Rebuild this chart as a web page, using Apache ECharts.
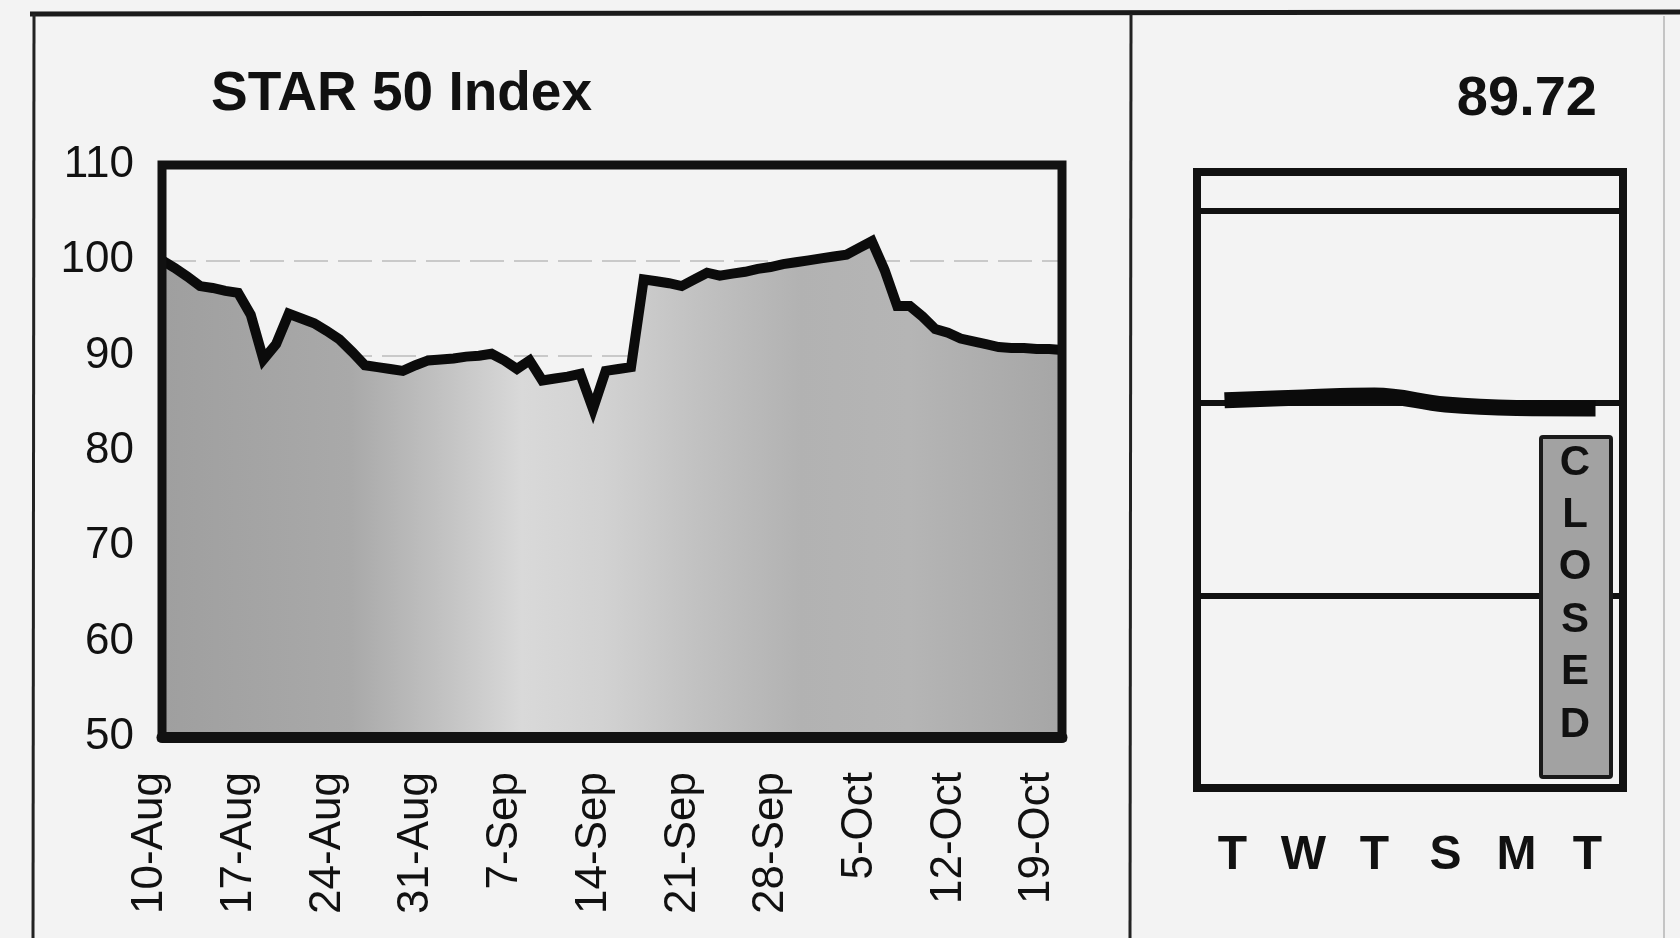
<!DOCTYPE html>
<html>
<head>
<meta charset="utf-8">
<script src="https://cdn.jsdelivr.net/npm/echarts@6/dist/echarts.min.js"></script>
<style>
  html, body { margin: 0; padding: 0; background: #f3f3f3; }
  #chart { width: 1680px; height: 938px; }
</style>
</head>
<body>
<div id="chart"></div>
<script>
// ---- Data ----
const titleText = 'STAR 50 Index';
const lastValue = '89.72';

// daily positions on the date axis, 10-Aug .. 20-Oct
const dates = [
  '10-Aug','11-Aug','12-Aug','13-Aug','14-Aug','15-Aug','16-Aug','17-Aug','18-Aug','19-Aug',
  '20-Aug','21-Aug','22-Aug','23-Aug','24-Aug','25-Aug','26-Aug','27-Aug','28-Aug','29-Aug',
  '30-Aug','31-Aug','1-Sep','2-Sep','3-Sep','4-Sep','5-Sep','6-Sep','7-Sep','8-Sep',
  '9-Sep','10-Sep','11-Sep','12-Sep','13-Sep','14-Sep','15-Sep','16-Sep','17-Sep','18-Sep',
  '19-Sep','20-Sep','21-Sep','22-Sep','23-Sep','24-Sep','25-Sep','26-Sep','27-Sep','28-Sep',
  '29-Sep','30-Sep','1-Oct','2-Oct','3-Oct','4-Oct','5-Oct','6-Oct','7-Oct','8-Oct',
  '9-Oct','10-Oct','11-Oct','12-Oct','13-Oct','14-Oct','15-Oct','16-Oct','17-Oct','18-Oct',
  '19-Oct','20-Oct'
];
const values = [
  100.0, 99.2, 98.3, 97.3, 97.1, 96.8, 96.6, 94.3, 89.6, 91.2,
  94.4, 93.9, 93.4, 92.6, 91.7, 90.4, 89.0, 88.8, 88.6, 88.4,
  89.0, 89.5, 89.6, 89.7, 89.9, 90.0, 90.2, 89.5, 88.6, 89.5,
  87.4, 87.6, 87.8, 88.1, 84.4, 88.4, 88.6, 88.8, 98.0, 97.8,
  97.6, 97.3, 98.0, 98.7, 98.4, 98.6, 98.8, 99.1, 99.3, 99.6,
  99.8, 100.0, 100.2, 100.4, 100.6, 101.3, 102.0, 99.0, 95.2, 95.2,
  94.1, 92.8, 92.4, 91.8, 91.5, 91.2, 90.9, 90.8, 90.8, 90.7,
  90.7, 90.6
];
const tickLabels = ['10-Aug','17-Aug','24-Aug','31-Aug','7-Sep','14-Sep','21-Sep','28-Sep','5-Oct','12-Oct','19-Oct'];
const yMin = 50, yMax = 110, yStep = 10;

// right-hand week panel
const weekDays = ['T','W','T','S','M','T'];
const weekValues = [90.16, 90.29, 90.39, 89.92, 89.74, 89.72];
const weekMin = 70, weekMax = 102, weekStep = 10;
const closedText = 'CLOSED';

// ---- Chart ----
const FONT = 'Liberation Sans, Arial, Helvetica, sans-serif';
const chart = echarts.init(document.getElementById('chart'), null, { renderer: 'canvas' });

const areaGradient = new echarts.graphic.LinearGradient(0, 0, 1, 0, [
  { offset: 0.00, color: '#9f9f9f' },
  { offset: 0.06, color: '#a2a2a2' },
  { offset: 0.21, color: '#a9a9a9' },
  { offset: 0.32, color: '#c4c4c4' },
  { offset: 0.40, color: '#d9d9d9' },
  { offset: 0.49, color: '#d2d2d2' },
  { offset: 0.59, color: '#c2c2c2' },
  { offset: 0.71, color: '#b2b2b2' },
  { offset: 0.83, color: '#b5b5b5' },
  { offset: 1.00, color: '#a6a6a6' }
]);

const option = {
  backgroundColor: '#f3f3f3',
  animation: false,
  title: [
    { text: titleText, left: 211, top: 67, padding: 0,
      textStyle: { fontFamily: FONT, fontWeight: 'bold', fontSize: 55, color: '#111' } },
    { text: lastValue, right: 83, top: 72, padding: 0,
      textStyle: { fontFamily: FONT, fontWeight: 'bold', fontSize: 56, color: '#111' } }
  ],
  grid: [
    { left: 162, top: 165, width: 900, height: 572, show: true, z: 10,
      backgroundColor: 'transparent', borderColor: '#111', borderWidth: 9 },
    { left: 1197, top: 172, width: 426, height: 616, show: true, z: 10,
      backgroundColor: 'transparent', borderColor: '#111', borderWidth: 8 }
  ],
  xAxis: [
    { type: 'category', gridIndex: 0, data: dates, boundaryGap: false, z: 11,
      axisLine: { show: true, lineStyle: { color: '#111', width: 11 } },
      axisTick: { show: false },
      splitLine: { show: false },
      axisLabel: {
        interval: (i, v) => tickLabels.indexOf(v) >= 0,
        rotate: 90, margin: 35, fontSize: 44, fontFamily: FONT, color: '#111',
        formatter: v => '{d|' + v + '}',
        rich: { d: { fontSize: 44, fontFamily: FONT, color: '#111', padding: [0, 0, 24, 0] } }
      } },
    { type: 'category', gridIndex: 1, data: weekDays, boundaryGap: true,
      axisLine: { show: false }, axisTick: { show: false }, splitLine: { show: false },
      axisLabel: { margin: 44, fontSize: 48, fontWeight: 'bold', fontFamily: FONT, color: '#111' } }
  ],
  yAxis: [
    { type: 'value', gridIndex: 0, min: yMin, max: yMax, interval: yStep,
      axisLine: { show: false }, axisTick: { show: false },
      axisLabel: { margin: 28, fontSize: 44, fontFamily: FONT, color: '#111' },
      splitLine: { show: true, lineStyle: { color: '#c9c9c9', width: 2, type: [34, 10] } } },
    { type: 'value', gridIndex: 1, min: weekMin, max: weekMax, interval: weekStep,
      axisLine: { show: false }, axisTick: { show: false }, axisLabel: { show: false },
      splitLine: { show: true, lineStyle: { color: '#111', width: 6 } } }
  ],
  series: [
    { type: 'line', xAxisIndex: 0, yAxisIndex: 0, data: values, symbol: 'none', z: 2,
      lineStyle: { color: '#0b0b0b', width: 10, join: 'miter', miterLimit: 4 },
      areaStyle: { color: areaGradient, opacity: 1 } },
    { type: 'line', xAxisIndex: 1, yAxisIndex: 1, data: weekValues, symbol: 'none', z: 3,
      smooth: 0.4,
      lineStyle: { color: '#0b0b0b', width: 16, cap: 'square' } }
  ],
  graphic: [
    { type: 'line', z: 50, shape: { x1: 30, y1: 14, x2: 1680, y2: 12 },
      style: { stroke: '#1a1a1a', lineWidth: 5 } },
    { type: 'line', z: 50, shape: { x1: 34, y1: 14, x2: 33, y2: 938 },
      style: { stroke: '#222', lineWidth: 3 } },
    { type: 'line', z: 50, shape: { x1: 1131, y1: 14, x2: 1130, y2: 938 },
      style: { stroke: '#222', lineWidth: 3 } },
    { type: 'line', z: 50, shape: { x1: 1664, y1: 16, x2: 1664, y2: 938 },
      style: { stroke: '#c4c4c4', lineWidth: 2 } },
    { type: 'group', z: 100, children: [
      { type: 'rect', z: 100, shape: { x: 1541, y: 437, width: 70, height: 340, r: 2 },
        style: { fill: '#a2a2a2', stroke: '#1a1a1a', lineWidth: 4 } },
      { type: 'text', z: 101, x: 1575, y: 594,
        style: { text: closedText.split('').join('\n'), fontFamily: FONT, fontWeight: 'bold',
                 fontSize: 42, lineHeight: 52.4, fill: '#111', align: 'center', verticalAlign: 'middle' } }
    ] }
  ]
};
chart.setOption(option);
</script>
</body>
</html>
